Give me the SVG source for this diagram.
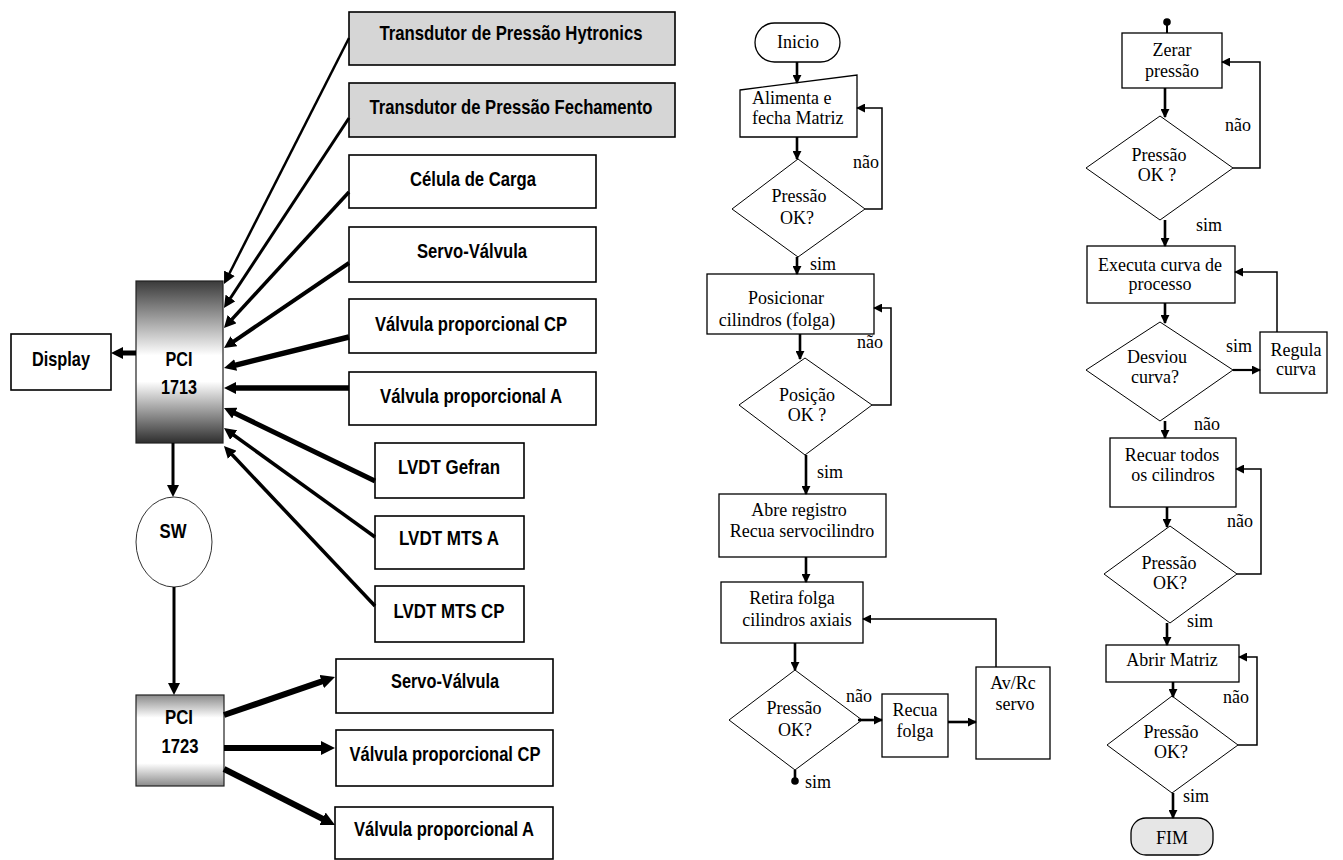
<svg xmlns="http://www.w3.org/2000/svg" width="1343" height="860" viewBox="0 0 1343 860">
<defs>
<linearGradient id="g1713" x1="0" y1="0" x2="0" y2="1">
<stop offset="0" stop-color="#3a3a3a"/><stop offset="0.46" stop-color="#fff"/><stop offset="0.62" stop-color="#fff"/><stop offset="1" stop-color="#2e2e2e"/>
</linearGradient>
<linearGradient id="g1723" x1="0" y1="0" x2="0" y2="1">
<stop offset="0" stop-color="#8a8a8a"/><stop offset="0.25" stop-color="#fff"/><stop offset="0.75" stop-color="#fff"/><stop offset="1" stop-color="#8a8a8a"/>
</linearGradient>
<marker id="al" viewBox="0 0 12 12" refX="1" refY="6" markerWidth="12" markerHeight="12" markerUnits="userSpaceOnUse" orient="auto"><path d="M0,0 L12,6 L0,12 z" fill="#000"/></marker>
<marker id="ax" viewBox="0 0 14 14" refX="1" refY="7" markerWidth="14" markerHeight="14" markerUnits="userSpaceOnUse" orient="auto"><path d="M0,0 L14,7 L0,14 z" fill="#000"/></marker>
<marker id="af" viewBox="0 0 10 10" refX="9" refY="5" markerWidth="9" markerHeight="9" markerUnits="userSpaceOnUse" orient="auto"><path d="M0,0 L10,5 L0,10 z" fill="#000"/></marker>
</defs>
<style>
.bx{fill:#fff;stroke:#000;stroke-width:1.6}
.gb{fill:#d6d6d6;stroke:#000;stroke-width:1.6}
.lt{font-family:"Liberation Sans Narrow","Arial Narrow","Liberation Sans",Arial,sans-serif;font-weight:bold;font-size:21px;fill:#000;text-anchor:middle}
.fb{fill:#fff;stroke:#000;stroke-width:1.3}
.fd{fill:#fff;stroke:#000;stroke-width:1}
.ft{font-family:"Liberation Serif","Times New Roman",serif;font-size:18px;fill:#000;text-anchor:middle}
.fl{font-family:"Liberation Serif","Times New Roman",serif;font-size:18px;fill:#000}
.ln{fill:none;stroke:#000}
</style>
<rect width="1343" height="860" fill="#fff"/>

<!-- LEFT BLOCK DIAGRAM -->
<g id="n-hytronics"><rect class="gb" x="349" y="12" width="326" height="53"/><text class="lt" x="511" y="40" textLength="263" lengthAdjust="spacingAndGlyphs">Transdutor de Pressão Hytronics</text></g>
<g id="n-fechamento"><rect class="gb" x="349" y="83" width="326" height="54"/><text class="lt" x="511" y="114" textLength="283" lengthAdjust="spacingAndGlyphs">Transdutor de Pressão Fechamento</text></g>
<g id="n-celula"><rect class="bx" x="349" y="155" width="247" height="53"/><text class="lt" x="473" y="186" textLength="126" lengthAdjust="spacingAndGlyphs">Célula de Carga</text></g>
<g id="n-servo1"><rect class="bx" x="349" y="227" width="247" height="55"/><text class="lt" x="472" y="258" textLength="110" lengthAdjust="spacingAndGlyphs">Servo-Válvula</text></g>
<g id="n-cp1"><rect class="bx" x="349" y="299" width="247" height="54"/><text class="lt" x="471" y="331" textLength="192" lengthAdjust="spacingAndGlyphs">Válvula proporcional CP</text></g>
<g id="n-a1"><rect class="bx" x="349" y="372" width="247" height="53"/><text class="lt" x="471" y="403" textLength="182" lengthAdjust="spacingAndGlyphs">Válvula proporcional A</text></g>
<g id="n-gefran"><rect class="bx" x="375" y="443" width="149" height="55"/><text class="lt" x="449" y="474" textLength="102" lengthAdjust="spacingAndGlyphs">LVDT Gefran</text></g>
<g id="n-mtsa"><rect class="bx" x="375" y="516" width="149" height="53"/><text class="lt" x="449" y="545" textLength="100" lengthAdjust="spacingAndGlyphs">LVDT MTS A</text></g>
<g id="n-mtscp"><rect class="bx" x="375" y="586" width="149" height="56"/><text class="lt" x="449" y="618" textLength="111" lengthAdjust="spacingAndGlyphs">LVDT MTS CP</text></g>
<g id="n-display"><rect class="bx" x="11" y="334" width="100" height="56"/><text class="lt" x="61" y="366" textLength="58" lengthAdjust="spacingAndGlyphs">Display</text></g>
<g id="n-pci1713"><rect x="136" y="281" width="87" height="162" fill="url(#g1713)" stroke="#222" stroke-width="1.2"/><text class="lt" x="179" y="366" textLength="27" lengthAdjust="spacingAndGlyphs">PCI</text><text class="lt" x="179" y="394" textLength="36" lengthAdjust="spacingAndGlyphs">1713</text></g>
<g id="n-sw"><ellipse cx="174" cy="542" rx="38" ry="45" fill="#fff" stroke="#333" stroke-width="1"/><text class="lt" x="173" y="538" textLength="27" lengthAdjust="spacingAndGlyphs">SW</text></g>
<g id="n-pci1723"><rect x="136" y="695" width="88" height="91" fill="url(#g1723)" stroke="#222" stroke-width="1.2"/><text class="lt" x="179" y="724" textLength="28" lengthAdjust="spacingAndGlyphs">PCI</text><text class="lt" x="180" y="753" textLength="37" lengthAdjust="spacingAndGlyphs">1723</text></g>
<g id="n-servo2"><rect class="bx" x="336" y="659" width="217" height="54"/><text class="lt" x="445" y="688" textLength="108" lengthAdjust="spacingAndGlyphs">Servo-Válvula</text></g>
<g id="n-cp2"><rect class="bx" x="336" y="730" width="217" height="56"/><text class="lt" x="445" y="761" textLength="191" lengthAdjust="spacingAndGlyphs">Válvula proporcional CP</text></g>
<g id="n-a2"><rect class="bx" x="335" y="807" width="218" height="52"/><text class="lt" x="444" y="836" textLength="180" lengthAdjust="spacingAndGlyphs">Válvula proporcional A</text></g>

<!-- MIDDLE FLOWCHART -->
<g id="m-inicio"><rect class="fb" x="755" y="23" width="85" height="39" rx="19.5"/><text class="ft" x="798" y="48">Inicio</text></g>
<g id="m-alimenta"><polygon class="fb" points="740,90 857,75 857,137 740,137"/><text class="fl" x="752" y="104">Alimenta e</text><text class="fl" x="752" y="124">fecha Matriz</text></g>
<g id="m-d1"><polygon class="fd" points="798,159 865,209 798,257 732,209"/><text class="ft" x="799" y="202">Pressão</text><text class="ft" x="797" y="224">OK?</text></g>
<g id="m-posicionar"><rect class="fb" x="707" y="274" width="167" height="60"/><text class="ft" x="786" y="304">Posicionar</text><text class="ft" x="777" y="326">cilindros (folga)</text></g>
<g id="m-d2"><polygon class="fd" points="805,358 872,405 805,455 739,405"/><text class="ft" x="807" y="401">Posição</text><text class="ft" x="807" y="421">OK ?</text></g>
<g id="m-abre"><rect class="fb" x="719" y="494" width="167" height="63"/><text class="ft" x="799" y="516">Abre registro</text><text class="ft" x="802" y="537">Recua servocilindro</text></g>
<g id="m-retira"><rect class="fb" x="721" y="582" width="142" height="61"/><text class="ft" x="792" y="604">Retira folga</text><text class="ft" x="797" y="626">cilindros axiais</text></g>
<g id="m-d3"><polygon class="fd" points="795,670 862,720 795,770 729,720"/><text class="ft" x="794" y="714">Pressão</text><text class="ft" x="795" y="736">OK?</text></g>
<g id="m-recua"><rect class="fb" x="882" y="694" width="66" height="63"/><text class="ft" x="915" y="716">Recua</text><text class="ft" x="915" y="737">folga</text></g>
<g id="m-avrc"><rect class="fb" x="976" y="667" width="74" height="92"/><text class="ft" x="1013" y="689">Av/Rc</text><text class="ft" x="1015" y="710">servo</text></g>
<g id="m-end"><circle cx="795" cy="781" r="3.8" fill="#000"/></g>

<!-- RIGHT FLOWCHART -->
<g id="r-start"><circle cx="1167" cy="22" r="3.8" fill="#000"/></g>
<g id="r-zerar"><rect class="fb" x="1122" y="33" width="100" height="55"/><text class="ft" x="1172" y="56">Zerar</text><text class="ft" x="1172" y="77">pressão</text></g>
<g id="r-d1"><polygon class="fd" points="1160,116 1233,168 1160,220 1086,168"/><text class="ft" x="1159" y="161">Pressão</text><text class="ft" x="1157" y="181">OK ?</text></g>
<g id="r-executa"><rect class="fb" x="1087" y="246" width="148" height="57"/><text class="ft" x="1160" y="271">Executa curva de</text><text class="ft" x="1160" y="290">processo</text></g>
<g id="r-desviou"><polygon class="fd" points="1160,322 1233,370 1160,421 1086,370"/><text class="ft" x="1157" y="363">Desviou</text><text class="ft" x="1155" y="383">curva?</text></g>
<g id="r-regula"><rect class="fb" x="1260" y="332" width="67" height="61"/><text class="ft" x="1296" y="356">Regula</text><text class="ft" x="1296" y="375">curva</text></g>
<g id="r-recuar"><rect class="fb" x="1110" y="438" width="126" height="69"/><text class="ft" x="1172" y="461">Recuar todos</text><text class="ft" x="1173" y="481">os cilindros</text></g>
<g id="r-d3"><polygon class="fd" points="1170,526 1237,574 1170,623 1104,574"/><text class="ft" x="1169" y="569">Pressão</text><text class="ft" x="1170" y="589">OK?</text></g>
<g id="r-abrir"><rect class="fb" x="1106" y="645" width="133" height="37"/><text class="ft" x="1172" y="666">Abrir Matriz</text></g>
<g id="r-d4"><polygon class="fd" points="1172,696 1238,745 1172,793 1107,745"/><text class="ft" x="1171" y="738">Pressão</text><text class="ft" x="1171" y="758">OK?</text></g>
<g id="r-fim"><rect x="1131" y="818" width="82" height="37" rx="15" fill="#e6e6e6" stroke="#000" stroke-width="1.3"/><text class="ft" x="1172" y="844">FIM</text></g>

<!-- CONNECTORS -->
<g id="connectors">
<g class="left-links">
<line class="ln" x1="349" y1="38" x2="229" y2="274.2" stroke-width="2.5" marker-end="url(#al)"/>
<line class="ln" x1="349" y1="118" x2="230" y2="298.8" stroke-width="3" marker-end="url(#al)"/>
<line class="ln" x1="349" y1="192" x2="231.4" y2="319.9" stroke-width="3.5" marker-end="url(#al)"/>
<line class="ln" x1="349" y1="263" x2="233.1" y2="341.8" stroke-width="4" marker-end="url(#al)"/>
<line class="ln" x1="349" y1="337" x2="234.7" y2="365.3" stroke-width="5.5" marker-end="url(#al)"/>
<line class="ln" x1="349" y1="388" x2="235" y2="388" stroke-width="5.5" marker-end="url(#al)"/>
<line class="ln" x1="375" y1="481" x2="233.9" y2="412.7" stroke-width="5" marker-end="url(#al)"/>
<line class="ln" x1="375" y1="537" x2="232.9" y2="434.5" stroke-width="3.5" marker-end="url(#al)"/>
<line class="ln" x1="375" y1="606" x2="231.5" y2="454" stroke-width="3.5" marker-end="url(#al)"/>
<line class="ln" x1="136" y1="353" x2="122" y2="353" stroke-width="5" marker-end="url(#al)"/>
<line class="ln" x1="173" y1="443" x2="173" y2="486" stroke-width="3" marker-end="url(#al)"/>
<line class="ln" x1="174" y1="587" x2="174" y2="684" stroke-width="3" marker-end="url(#al)"/>
<line class="ln" x1="224" y1="715" x2="322.7" y2="681.2" stroke-width="6" marker-end="url(#ax)"/>
<line class="ln" x1="224" y1="748" x2="322" y2="748" stroke-width="6" marker-end="url(#ax)"/>
<line class="ln" x1="224" y1="769" x2="323.4" y2="819.2" stroke-width="6" marker-end="url(#ax)"/>
</g>
<g class="mid-links">
<line class="ln" x1="797" y1="62" x2="797" y2="83" stroke-width="2.6" marker-end="url(#af)"/>
<line class="ln" x1="797" y1="137" x2="797" y2="159" stroke-width="2.6" marker-end="url(#af)"/>
<line class="ln" x1="797" y1="257" x2="797" y2="274" stroke-width="2.6" marker-end="url(#af)"/>
<line class="ln" x1="800" y1="334" x2="800" y2="359" stroke-width="2.6" marker-end="url(#af)"/>
<line class="ln" x1="806" y1="455" x2="806" y2="494" stroke-width="2.6" marker-end="url(#af)"/>
<line class="ln" x1="806" y1="557" x2="806" y2="582" stroke-width="2.6" marker-end="url(#af)"/>
<line class="ln" x1="795" y1="643" x2="795" y2="670" stroke-width="2.6" marker-end="url(#af)"/>
<line class="ln" x1="795" y1="770" x2="795" y2="780" stroke-width="2.6"/>
<line class="ln" x1="858" y1="720" x2="882" y2="720" stroke-width="2.6" marker-end="url(#af)"/>
<line class="ln" x1="948" y1="722" x2="976" y2="722" stroke-width="2.6" marker-end="url(#af)"/>
<path class="ln" d="M865,209 H882 V108 H857" stroke-width="1.5" marker-end="url(#af)"/>
<path class="ln" d="M872,405 H891 V308 H874" stroke-width="1.5" marker-end="url(#af)"/>
<path class="ln" d="M996,667 V619 H863" stroke-width="1.5" marker-end="url(#af)"/>
<text class="ft" x="866" y="168">não</text>
<text class="fl" x="810" y="270">sim</text>
<text class="ft" x="870" y="348">não</text>
<text class="fl" x="817" y="478">sim</text>
<text class="ft" x="859" y="702">não</text>
<text class="fl" x="805" y="788">sim</text>
</g>
<g class="right-links">
<line class="ln" x1="1167" y1="22" x2="1167" y2="33" stroke-width="2"/>
<line class="ln" x1="1165" y1="88" x2="1165" y2="117" stroke-width="2.6" marker-end="url(#af)"/>
<line class="ln" x1="1165" y1="220" x2="1165" y2="246" stroke-width="2.6" marker-end="url(#af)"/>
<line class="ln" x1="1165" y1="303" x2="1165" y2="323" stroke-width="2.6" marker-end="url(#af)"/>
<line class="ln" x1="1233" y1="370" x2="1260" y2="370" stroke-width="2.2" marker-end="url(#af)"/>
<line class="ln" x1="1165" y1="421" x2="1165" y2="438" stroke-width="2.6" marker-end="url(#af)"/>
<line class="ln" x1="1167" y1="507" x2="1167" y2="527" stroke-width="2.6" marker-end="url(#af)"/>
<line class="ln" x1="1167" y1="623" x2="1167" y2="645" stroke-width="2.6" marker-end="url(#af)"/>
<line class="ln" x1="1173" y1="682" x2="1173" y2="697" stroke-width="2.6" marker-end="url(#af)"/>
<line class="ln" x1="1173" y1="793" x2="1173" y2="818" stroke-width="2.6" marker-end="url(#af)"/>
<path class="ln" d="M1233,168 H1260 V62 H1222" stroke-width="1.5" marker-end="url(#af)"/>
<path class="ln" d="M1277,332 V272 H1235" stroke-width="1.5" marker-end="url(#af)"/>
<path class="ln" d="M1237,574 H1261 V469 H1236" stroke-width="1.5" marker-end="url(#af)"/>
<path class="ln" d="M1238,745 H1257 V657 H1239" stroke-width="1.5" marker-end="url(#af)"/>
<text class="ft" x="1238" y="131">não</text>
<text class="ft" x="1209" y="231">sim</text>
<text class="ft" x="1239" y="352">sim</text>
<text class="ft" x="1207" y="430">não</text>
<text class="ft" x="1240" y="527">não</text>
<text class="ft" x="1200" y="627">sim</text>
<text class="ft" x="1236" y="703">não</text>
<text class="ft" x="1196" y="802">sim</text>
</g>
</g>
</svg>
